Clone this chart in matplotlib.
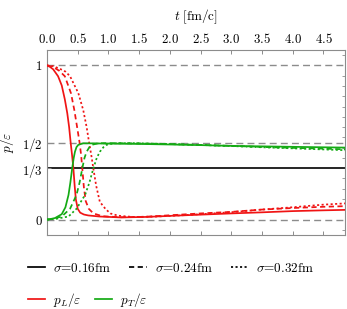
import matplotlib
matplotlib.use("Agg")
import matplotlib.pyplot as plt
from matplotlib.lines import Line2D
from matplotlib.ticker import MultipleLocator, FixedLocator

plt.rcParams['mathtext.fontset'] = 'cm'
plt.rcParams['font.family'] = ['cmr10', 'DejaVu Serif']
plt.rcParams['axes.unicode_minus'] = False

# ---- data ----
t_L1 = [0, 0.05, 0.1, 0.18, 0.24, 0.29, 0.33, 0.36, 0.385, 0.41, 0.43, 0.45, 0.47, 0.50, 0.54, 0.60, 0.67, 0.85, 1.2, 1.6, 2.0, 2.5, 3.0, 3.5, 4.0, 4.5, 4.85]
pL1 = [1.0, 0.99, 0.975, 0.93, 0.87, 0.78, 0.69, 0.60, 0.50, 0.41, 0.33, 0.22, 0.13, 0.07, 0.045, 0.033, 0.027, 0.02, 0.014, 0.017, 0.024, 0.032, 0.04, 0.047, 0.055, 0.06, 0.063]

t_L2 = [0, 0.1, 0.2, 0.29, 0.39, 0.445, 0.49, 0.53, 0.555, 0.575, 0.60, 0.63, 0.68, 0.755, 0.9, 1.2, 1.6, 2.0, 2.5, 3.0, 3.5, 4.0, 4.5, 4.85]
pL2 = [1.0, 0.99, 0.965, 0.93, 0.82, 0.71, 0.60, 0.50, 0.42, 0.33, 0.21, 0.12, 0.07, 0.04, 0.022, 0.015, 0.018, 0.028, 0.04, 0.05, 0.065, 0.075, 0.083, 0.087]

t_L3 = [0, 0.1, 0.2, 0.3, 0.375, 0.51, 0.59, 0.645, 0.685, 0.72, 0.755, 0.80, 0.86, 0.95, 1.03, 1.16, 1.4, 1.8, 2.2, 2.5, 3.0, 3.5, 4.0, 4.5, 4.85]
pL3 = [1.0, 0.995, 0.98, 0.96, 0.93, 0.82, 0.71, 0.60, 0.50, 0.42, 0.33, 0.22, 0.115, 0.07, 0.04, 0.025, 0.017, 0.02, 0.028, 0.035, 0.048, 0.065, 0.08, 0.097, 0.105]

t_T1 = [0, 0.05, 0.13, 0.24, 0.30, 0.35, 0.38, 0.41, 0.435, 0.455, 0.48, 0.51, 0.59, 0.8, 1.2, 1.6, 2.0, 2.5, 3.0, 3.5, 4.0, 4.5, 4.85]
pT1 = [0, 0.003, 0.01, 0.035, 0.08, 0.16, 0.24, 0.333, 0.40, 0.44, 0.47, 0.485, 0.495, 0.494, 0.492, 0.49, 0.487, 0.483, 0.478, 0.475, 0.472, 0.469, 0.467]

t_T2 = [0, 0.1, 0.24, 0.375, 0.48, 0.53, 0.575, 0.61, 0.645, 0.69, 0.73, 0.835, 1.0, 1.5, 2.0, 2.5, 3.0, 3.5, 4.0, 4.5, 4.85]
pT2 = [0, 0.005, 0.02, 0.07, 0.16, 0.24, 0.333, 0.40, 0.44, 0.47, 0.485, 0.495, 0.496, 0.494, 0.49, 0.484, 0.478, 0.471, 0.465, 0.46, 0.456]

t_T3 = [0, 0.15, 0.35, 0.48, 0.62, 0.69, 0.755, 0.81, 0.86, 0.92, 0.97, 1.1, 1.4, 2.0, 2.5, 3.0, 3.5, 4.0, 4.5, 4.85]
pT3 = [0, 0.005, 0.02, 0.07, 0.16, 0.24, 0.333, 0.40, 0.44, 0.47, 0.485, 0.495, 0.496, 0.49, 0.484, 0.477, 0.469, 0.462, 0.455, 0.45]

sigma_labels = [r'$\sigma$=0.16fm', r'$\sigma$=0.24fm', r'$\sigma$=0.32fm']
comp_labels = [r'$p_L/\varepsilon$', r'$p_T/\varepsilon$']
x_ticks = [0.0, 0.5, 1.0, 1.5, 2.0, 2.5, 3.0, 3.5, 4.0, 4.5]
y_ticks = [0, 1/3, 1/2, 1]
y_ticklabels = ['0', '1/3', '1/2', '1']
ref_dashed = [0, 0.5, 1]
ref_solid = 1/3

RED = '#f01414'
GREEN = '#14aa14'
GRAY = '#8c8c8c'
styles = ['-', (0, (3, 2)), (0, (1.2, 1.4))]
LW = 1.25

fig = plt.figure(figsize=(3.47, 3.09), dpi=100)
ax = fig.add_axes([47/347, 1-235/309, 298/347, 185/309])

for y in ref_dashed:
    ax.axhline(y, color=GRAY, lw=1.0, ls=(0, (5, 3)), zorder=1)
ax.axhline(ref_solid, color='black', lw=1.2, zorder=1)

for tt, pp, ls in zip([t_L1, t_L2, t_L3], [pL1, pL2, pL3], styles):
    ax.plot(tt, pp, color=RED, lw=LW, ls=ls, zorder=3)
for tt, pp, ls in zip([t_T1, t_T2, t_T3], [pT1, pT2, pT3], styles):
    ax.plot(tt, pp, color=GREEN, lw=LW, ls=ls, zorder=3)

ax.set_xlim(0, 4.85)
ax.set_ylim(-0.1, 1.1)

ax.set_xticks(x_ticks)
ax.set_xticklabels([r'$%.1f$' % v for v in x_ticks])
ax.tick_params(axis='x', which='both', top=True, bottom=True, labeltop=True,
               labelbottom=False, direction='in', length=3, width=0.7,
               color=GRAY, labelsize=9.3, pad=3)
ax.xaxis.set_label_position('top')
ax.set_xlabel(r'$t\ \mathrm{[fm/c]}$', fontsize=9.5, labelpad=8)

ax.yaxis.set_major_locator(FixedLocator(y_ticks))
ax.set_yticklabels([r'$%s$' % s for s in y_ticklabels])
ax.yaxis.set_minor_locator(MultipleLocator(1/15))
ax.tick_params(axis='y', which='major', left=True, right=False, direction='in',
               length=3, width=0.7, color=GRAY, labelsize=9.3, pad=3)
ax.tick_params(axis='y', which='minor', left=False, right=True, direction='in',
               length=2.5, width=0.6, color=GRAY)
ax.set_ylabel(r'$p/\varepsilon$', fontsize=9.5, labelpad=4)

for s in ax.spines.values():
    s.set_color(GRAY)
    s.set_linewidth(0.8)

h1 = [Line2D([], [], color='black', lw=LW, ls=ls) for ls in styles]
leg1 = fig.legend(h1, sigma_labels, loc='center left',
                  bbox_to_anchor=(28/347, 1-268/309), ncol=3, frameon=False,
                  fontsize=9.5, handlelength=1.3, handletextpad=0.6,
                  columnspacing=1.4, borderpad=0, borderaxespad=0)
h2 = [Line2D([], [], color=c, lw=LW) for c in [RED, GREEN]]
leg2 = fig.legend(h2, comp_labels, loc='center left',
                  bbox_to_anchor=(28/347, 1-300/309), ncol=2, frameon=False,
                  fontsize=9.5, handlelength=1.3, handletextpad=0.6,
                  columnspacing=1.0, borderpad=0, borderaxespad=0)

fig.savefig('out.png', dpi=100)
